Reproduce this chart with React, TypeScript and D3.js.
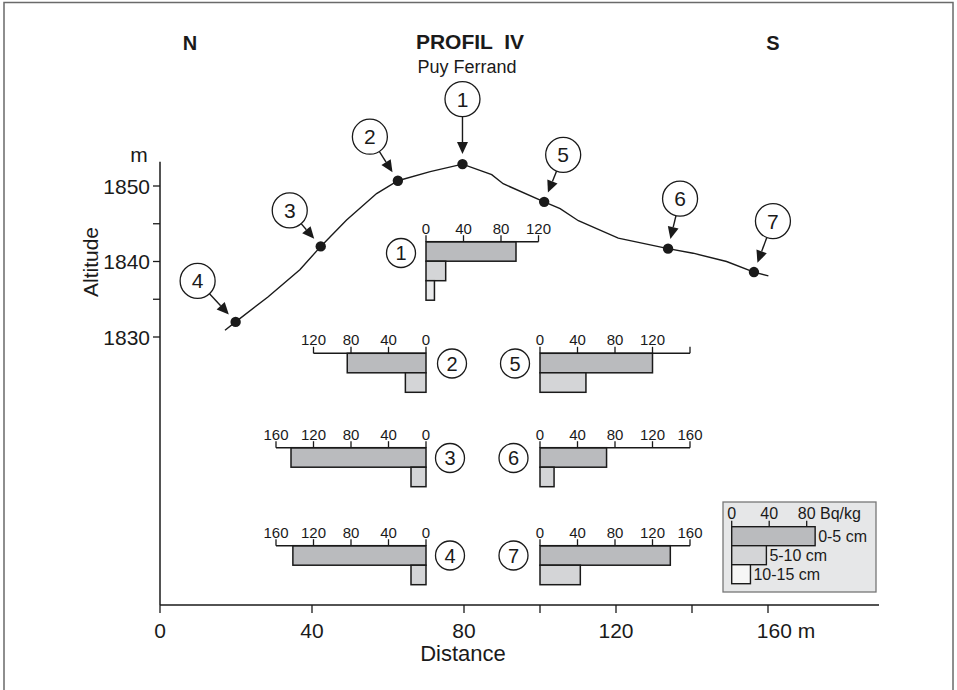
import React from "react";
import * as d3 from "d3";

// ---- Data ----
const profileDist = [17.1, 19.9, 28.4, 36.8, 42.3, 49.1, 57.0, 62.6, 71.1, 79.6, 87.3, 90.3, 101.1, 105.3, 110.1, 120.6, 133.7, 140.3, 149.1, 156.3, 160.1];
const profileAlt = [1830.9, 1832.0, 1835.3, 1838.9, 1842.0, 1845.5, 1849.0, 1850.7, 1851.9, 1852.9, 1851.5, 1850.3, 1847.9, 1847.0, 1845.4, 1843.1, 1841.7, 1841.1, 1840.0, 1838.6, 1838.1];

const sampleSites = ["4", "3", "2", "1", "5", "6", "7"];
const sampleDist = [19.9, 42.3, 62.6, 79.6, 101.1, 133.7, 156.3];
const sampleAlt = [1832.0, 1842.0, 1850.7, 1852.9, 1847.9, 1841.7, 1838.6];

const distTicks = [0, 40, 80, 100, 120, 140, 160];
const distTickLabels = ["0", "40", "80", "", "120", "", "160 m"];
const altTicks = [1830, 1835, 1840, 1845, 1850];
const altTickLabels = ["1830", "", "1840", "", "1850"];

// Cs activity (Bq/kg) per site, by depth
const barSites = ["1", "2", "3", "4", "5", "6", "7"];
const depth0_5 = [96, 84, 144, 142, 120, 71, 139];
const depth5_10 = [21, 22, 16, 16, 49, 15, 43];
const depth10_15 = [9, 0, 0, 0, 0, 0, 0];
const barAxisMax = [120, 120, 160, 160, 160, 160, 160];
const barLabelMax = [120, 120, 160, 160, 120, 160, 160];

const legendValues = [89, 37, 20];
const legendLabels = ["0-5 cm", "5-10 cm", "10-15 cm"];
const legendTicks = [0, 40, 80];

// ---- Layout (positions/styles) ----
const FONT = "'Liberation Sans', Arial, Helvetica, sans-serif";
const labelOffsets: Record<string, [number, number]> = {
  "1": [0, -65], "2": [-28, -44], "3": [-31, -36], "4": [-38, -41],
  "5": [19, -47], "6": [12, -50], "7": [19, -51],
};
const barLayout: Record<string, { side: number; zeroX: number; axisY: number; cx: number; cy: number }> = {
  "1": { side: 1, zeroX: 426, axisY: 241.7, cx: 401, cy: 253 },
  "2": { side: -1, zeroX: 426, axisY: 353.3, cx: 452, cy: 363.5 },
  "3": { side: -1, zeroX: 426, axisY: 447.7, cx: 450, cy: 458 },
  "4": { side: -1, zeroX: 426, axisY: 545.7, cx: 450, cy: 555.5 },
  "5": { side: 1, zeroX: 540, axisY: 353.3, cx: 515, cy: 363.5 },
  "6": { side: 1, zeroX: 540, axisY: 447.7, cx: 513.5, cy: 458 },
  "7": { side: 1, zeroX: 540, axisY: 545.7, cx: 513.5, cy: 555.5 },
};
const barFills = ["#babbbe", "#d4d5d7", "#e9eaeb"];
const BAR_H = 19.5;

const x = d3.scaleLinear().domain([0, 160]).range([160, 768]);
const y = d3.scaleLinear().domain([1830, 1850]).range([337, 186]);
const bq = d3.scaleLinear().domain([0, 160]).range([0, 150]);

function Arrow({ c, p, r }: { c: [number, number]; p: [number, number]; r: number }) {
  const dx = p[0] - c[0], dy = p[1] - c[1];
  const len = Math.hypot(dx, dy);
  const ux = dx / len, uy = dy / len;
  const sx = c[0] + ux * r, sy = c[1] + uy * r;
  const tx = p[0] - ux * 10, ty = p[1] - uy * 10;
  const hl = 12, hw = 5.5;
  const bx = tx - ux * hl, by = ty - uy * hl;
  const px = -uy, py = ux;
  return (
    <g>
      <line x1={sx} y1={sy} x2={bx} y2={by} stroke="#1a1a1a" strokeWidth={1.4} />
      <path d={`M${tx},${ty}L${bx + px * hw},${by + py * hw}L${bx - px * hw},${by - py * hw}Z`} fill="#1a1a1a" />
    </g>
  );
}

function BarChart({ i }: { i: number }) {
  const site = barSites[i];
  const L = barLayout[site];
  const vals = [depth0_5[i], depth5_10[i], depth10_15[i]];
  const ticks = d3.range(0, barAxisMax[i] + 1, 40);
  return (
    <g>
      {vals.map((v, k) =>
        v > 0 ? (
          <rect
            key={k}
            x={L.side > 0 ? L.zeroX : L.zeroX - bq(v)}
            y={L.axisY + k * BAR_H}
            width={bq(v)}
            height={BAR_H}
            fill={barFills[k]}
            stroke="#1a1a1a"
            strokeWidth={1.5}
          />
        ) : null
      )}
      <line x1={L.zeroX} x2={L.zeroX + L.side * bq(barAxisMax[i])} y1={L.axisY} y2={L.axisY} stroke="#1a1a1a" strokeWidth={1.5} />
      {ticks.map((t) => (
        <g key={t}>
          <line x1={L.zeroX + L.side * bq(t)} x2={L.zeroX + L.side * bq(t)} y1={L.axisY} y2={L.axisY - 6.5} stroke="#1a1a1a" strokeWidth={1.3} />
          {t <= barLabelMax[i] && (
            <text x={L.zeroX + L.side * bq(t)} y={L.axisY - 8} textAnchor="middle" fontSize={15} fontFamily={FONT} fill="#1a1a1a">
              {t}
            </text>
          )}
        </g>
      ))}
      <circle cx={L.cx} cy={L.cy} r={14.5} fill="white" stroke="#1a1a1a" strokeWidth={1.3} />
      <text x={L.cx} y={L.cy + 7} textAnchor="middle" fontSize={20} fontFamily={FONT} fill="#1a1a1a">
        {site}
      </text>
    </g>
  );
}

export default function App() {
  const line = d3
    .line<number>()
    .x((_, k) => x(profileDist[k]))
    .y((_, k) => y(profileAlt[k]))
    .curve(d3.curveLinear);
  const pathD = line(profileDist) || "";

  const lgZero = 731.7, lgAxisY = 526.7;

  return (
    <div style={{ position: "absolute", left: 0, top: 0 }}>
      <svg width={957} height={690} style={{ display: "block", background: "white" }}>
        <rect x={4} y={2.5} width={949} height={720} fill="white" stroke="#6a6a6a" strokeWidth={1.5} />

        {/* Titles */}
        <text x={190} y={50} textAnchor="middle" fontSize={20} fontWeight="bold" fontFamily={FONT} fill="#1a1a1a">N</text>
        <text x={773} y={50} textAnchor="middle" fontSize={20} fontWeight="bold" fontFamily={FONT} fill="#1a1a1a">S</text>
        <text x={470} y={49} textAnchor="middle" fontSize={21} fontWeight="bold" fontFamily={FONT} fill="#1a1a1a" style={{ whiteSpace: "pre" }}>
          {"PROFIL  IV"}
        </text>
        <text x={467} y={73} textAnchor="middle" fontSize={18} fontFamily={FONT} fill="#1a1a1a">Puy Ferrand</text>

        {/* Y axis */}
        <line x1={160} x2={160} y1={161.7} y2={605} stroke="#1a1a1a" strokeWidth={1.5} />
        {altTicks.map((t, k) => (
          <g key={t}>
            <line x1={153} x2={160} y1={y(t)} y2={y(t)} stroke="#1a1a1a" strokeWidth={1.3} />
            {altTickLabels[k] && (
              <text x={150} y={y(t) + 7.5} textAnchor="end" fontSize={21} fontFamily={FONT} fill="#1a1a1a">
                {altTickLabels[k]}
              </text>
            )}
          </g>
        ))}
        <text x={139} y={162} textAnchor="middle" fontSize={21} fontFamily={FONT} fill="#1a1a1a">m</text>
        <text transform="translate(98,262) rotate(-90)" textAnchor="middle" fontSize={21} fontFamily={FONT} fill="#1a1a1a">Altitude</text>

        {/* X axis */}
        <line x1={160} x2={879} y1={605} y2={605} stroke="#1a1a1a" strokeWidth={1.5} />
        {distTicks.map((t, k) => (
          <g key={t}>
            <line x1={x(t)} x2={x(t)} y1={605} y2={613} stroke="#1a1a1a" strokeWidth={1.3} />
            {distTickLabels[k] && (
              <text x={x(t) + (k === 6 ? 18 : 0)} y={638} textAnchor="middle" fontSize={21} fontFamily={FONT} fill="#1a1a1a">
                {distTickLabels[k]}
              </text>
            )}
          </g>
        ))}
        <text x={463} y={661} textAnchor="middle" fontSize={22} fontFamily={FONT} fill="#1a1a1a">Distance</text>

        {/* Profile */}
        <path d={pathD} fill="none" stroke="#1a1a1a" strokeWidth={1.4} />
        {sampleSites.map((s, k) => {
          const p: [number, number] = [x(sampleDist[k]), y(sampleAlt[k])];
          const o = labelOffsets[s];
          const c: [number, number] = [p[0] + o[0], p[1] + o[1]];
          return (
            <g key={s}>
              <circle cx={p[0]} cy={p[1]} r={5.2} fill="#1a1a1a" />
              <Arrow c={c} p={p} r={17.5} />
              <circle cx={c[0]} cy={c[1]} r={17.5} fill="white" stroke="#1a1a1a" strokeWidth={1.3} />
              <text x={c[0]} y={c[1] + 7.5} textAnchor="middle" fontSize={21} fontFamily={FONT} fill="#1a1a1a">{s}</text>
            </g>
          );
        })}

        {/* Bar charts */}
        {barSites.map((_, i) => (
          <BarChart key={i} i={i} />
        ))}

        {/* Legend */}
        <rect x={723} y={502} width={153} height={90} fill="#e6e7e8" stroke="#777" strokeWidth={1.3} />
        {legendValues.map((v, k) => (
          <rect key={k} x={lgZero} y={lgAxisY + k * 19} width={bq(v)} height={19} fill={k === 2 ? "#f6f6f6" : barFills[k]} stroke="#1a1a1a" strokeWidth={1.4} />
        ))}
        {legendTicks.map((t) => (
          <line key={t} x1={lgZero + bq(t)} x2={lgZero + bq(t)} y1={lgAxisY} y2={lgAxisY - 6} stroke="#1a1a1a" strokeWidth={1.3} />
        ))}
        {legendTicks.map((t) => (
          <text key={t} x={lgZero + bq(t)} y={lgAxisY - 8} textAnchor={t === 80 ? "start" : "middle"} dx={t === 80 ? -8.9 : 0} fontSize={16} fontFamily={FONT} fill="#1a1a1a">
            {t === 80 ? "80 Bq/kg" : t}
          </text>
        ))}
        {legendLabels.map((l, k) => (
          <text key={l} x={lgZero + bq(legendValues[k]) + 3} y={lgAxisY + k * 19 + 15.5} fontSize={16} fontFamily={FONT} fill="#1a1a1a">
            {l}
          </text>
        ))}
      </svg>
    </div>
  );
}
